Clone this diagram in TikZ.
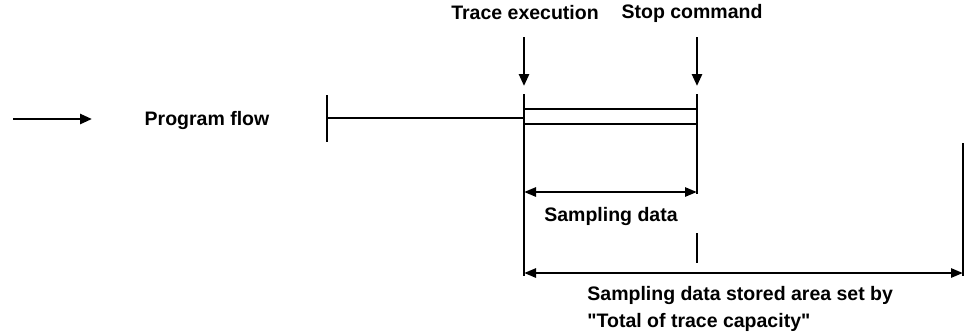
\documentclass[tikz,border=0pt]{standalone}
\usepackage{fontspec}
\setmainfont{Liberation Sans}[Ligatures=TeXOff]
\usetikzlibrary{arrows.meta,positioning}
\tikzset{
  lbl/.style={font=\fontsize{9.75}{13.5}\selectfont\bfseries, inner sep=0pt, align=left},
  bar/.style={line width=1.4pt},
  thin bar/.style={line width=1.1pt},
  arrow/.style={-{Triangle[length=6pt,width=5pt]}, line width=1.3pt},
  dimarrow/.style={{Triangle[length=6pt,width=4.5pt]}-{Triangle[length=6pt,width=4.5pt]}, line width=1.3pt}
}
\begin{document}
\begin{tikzpicture}[x=0.5pt, y=-0.5pt]
  \useasboundingbox (0,0) rectangle (967,334);
  % legend
  \coordinate (legA) at (13,119);
  \coordinate (legB) at (92,119);
  \node[lbl] (flow) at (207,120) {Program flow};
  \draw[arrow] (legA) -- (legB);
  % program flow up to trace start
  \coordinate (tickT) at (327,95);
  \coordinate (tickB) at (327,142);
  \coordinate (flowL) at (327,118);
  \coordinate (flowR) at (524,118);
  \draw[bar] (tickT) -- (tickB);
  \draw[bar] (flowL) -- (flowR);
  % trigger labels and arrows
  \node[lbl] (trlbl) at (525,13) {Trace execution};
  \node[lbl] (stlbl) at (692,13) {Stop command};
  \coordinate (trtop) at (524,37);
  \coordinate (trtip) at (524,86);
  \coordinate (sttop) at (697,37);
  \coordinate (sttip) at (697,86);
  \draw[arrow] (trtop) -- (trtip);
  \draw[arrow] (sttop) -- (sttip);
  % vertical marks
  \coordinate (tr1) at (524,94);
  \coordinate (tr2) at (524,276);
  \coordinate (st1) at (697,94);
  \coordinate (st2) at (697,194);
  \coordinate (st3) at (697,233);
  \coordinate (st4) at (697,263);
  \coordinate (end1) at (963,143);
  \coordinate (end2) at (963,276);
  \draw[bar] (tr1) -- (tr2);
  \draw[bar] (st1) -- (st2);
  \draw[bar] (st3) -- (st4);
  \draw[bar] (end1) -- (end2);
  % sampled section (double line)
  \coordinate (dl1) at (524,109);
  \coordinate (dr1) at (697,109);
  \coordinate (dl2) at (524,124);
  \coordinate (dr2) at (697,124);
  \draw[thin bar] (dl1) -- (dr1);
  \draw[thin bar] (dl2) -- (dr2);
  % dimensions
  \coordinate (smpL) at (524,192);
  \coordinate (smpR) at (697,192);
  \draw[dimarrow] (smpL) -- (smpR);
  \node[lbl] (smp) at (611,216) {Sampling data};
  \coordinate (totL) at (524,273);
  \coordinate (totR) at (963,273);
  \draw[dimarrow] (totL) -- (totR);
  \node[lbl, anchor=west] (tot) at (587,308.5) {Sampling data stored area set by\\"Total of trace capacity"};
\end{tikzpicture}
\end{document}
